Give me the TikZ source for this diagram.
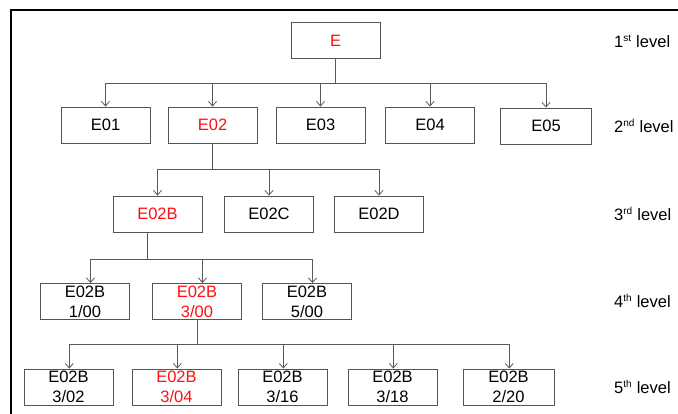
\documentclass[tikz,border=0pt]{standalone}
\usepackage{fontspec}
\setmainfont{Liberation Sans}
\usetikzlibrary{arrows.meta,calc}
\definecolor{boxgray}{HTML}{555555}
\definecolor{linegray}{HTML}{5A5A5A}
\definecolor{hilite}{HTML}{FF1010}
\tikzset{
  unit/.style={draw=boxgray, line width=0.9pt, minimum width=89pt, minimum height=36pt,
    inner sep=0pt, align=center, font=\fontsize{16.5}{20}\selectfont},
  sel/.style={unit, text=hilite},
  stem/.style={draw=linegray, line width=0.9pt},
  link/.style={draw=linegray, line width=0.9pt, -{Straight Barb[length=4.5pt,width=8pt,line width=0.8pt]}},
  lvl/.style={anchor=west, inner sep=0pt, font=\fontsize{16.5}{20}\selectfont},
}
\newcommand{\lvlsup}[1]{\textsuperscript{\fontsize{10}{12}\selectfont #1}}
\begin{document}
\begin{tikzpicture}[x=1pt,y=-1pt]
\useasboundingbox (0,0) rectangle (678,414);
\fill[white] (0,0) rectangle (678,414);
% outer frame (top and left edges)
\draw[line width=2.2pt] (678,10) -- (11,10) -- (11,414);

% level 1
\node[sel] (e) at (335.5,40.5) {E};
% level 2
\node[unit] (e01) at (105.5,125) {E01};
\node[sel]  (e02) at (212.5,125) {E02};
\node[unit] (e03) at (320.5,125) {E03};
\node[unit] (e04) at (430,125) {E04};
\node[unit, minimum width=91pt] (e05) at (546,126) {E05};
% level 3
\node[sel]  (e02b) at (157.5,214) {E02B};
\node[unit] (e02c) at (269,214) {E02C};
\node[unit] (e02d) at (379,214) {E02D};
% level 4
\node[unit] (f100) at (85,301.5) {E02B\\1/00};
\node[sel]  (f300) at (197,301.5) {E02B\\3/00};
\node[unit] (f500) at (307,301.5) {E02B\\5/00};
% level 5
\node[unit] (g302) at (68.5,387) {E02B\\3/02};
\node[sel]  (g304) at (176.5,387) {E02B\\3/04};
\node[unit] (g316) at (282.5,387) {E02B\\3/16};
\node[unit] (g318) at (392.5,387) {E02B\\3/18};
\node[unit, minimum width=91pt] (g220) at (508.5,387) {E02B\\2/20};

% level labels
\node[lvl] (l1) at (614,41) {1\lvlsup{st} level};
\node[lvl] (l2) at (614,126) {2\lvlsup{nd} level};
\node[lvl] (l3) at (614,214) {3\lvlsup{rd} level};
\node[lvl] (l4) at (614,301) {4\lvlsup{th} level};
\node[lvl] (l5) at (614,387) {5\lvlsup{th} level};

% bus points
\coordinate (b1) at (335.5,83);
\coordinate (b2) at (212.5,169);
\coordinate (b3) at (147,259);
\coordinate (b4) at (197,344);

% E -> level 2
\draw[stem] (e.south) -- (b1);
\foreach \n in {e01,e02,e03,e04,e05}
  \draw[link] (b1) -| (\n.north);
% E02 -> level 3
\draw[stem] (e02.south) -- (b2);
\foreach \n in {e02b,e02c,e02d}
  \draw[link] (b2) -| (\n.north);
% E02B -> level 4
\draw[stem] ([xshift=-10.5pt]e02b.south) -- (b3);
\foreach \n in {f100,f300,f500}
  \draw[link] (b3) -| ([xshift=5.5pt]\n.north);
% E02B 3/00 -> level 5
\draw[stem] (f300.south) -- (b4);
\foreach \n in {g302,g304,g316,g318,g220}
  \draw[link] (b4) -| ([xshift=0.8pt]\n.north);
\end{tikzpicture}
\end{document}
